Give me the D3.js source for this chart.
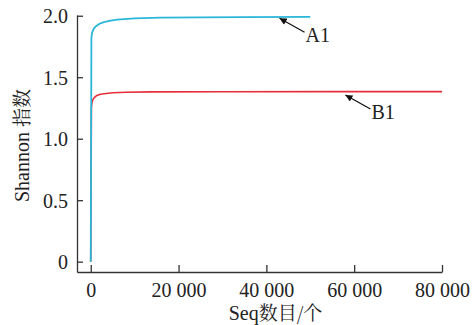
<!DOCTYPE html>
<html>
<head>
<meta charset="utf-8">
<script src="https://cdn.jsdelivr.net/npm/d3@7"></script>
<style>
  html, body { margin: 0; padding: 0; background: #fff; }
  svg { display: block; }
</style>
</head>
<body>
<div id="chart"></div>
<script>
// sequencing depth (reads) vs Shannon index
const seqA1 = [0, 150, 300, 700, 1200, 2000, 3000, 4500, 6000, 10000, 16000, 25000, 35000, 50000];
const shannonA1 = [0, 1.82, 1.86, 1.895, 1.915, 1.935, 1.948, 1.96, 1.968, 1.978, 1.984, 1.987, 1.989, 1.991];

const seqB1 = [0, 150, 300, 600, 1000, 1400, 2200, 3500, 5000, 8000, 14000, 30000, 55000, 80000];
const shannonB1 = [0, 1.255, 1.3, 1.325, 1.34, 1.352, 1.362, 1.368, 1.374, 1.378, 1.381, 1.382, 1.383, 1.383];

const xTicks = [0, 20000, 40000, 60000, 80000];
const yTicks = [0, 0.5, 1.0, 1.5, 2.0];

// label anchors: [seq, shannon] where the arrow touches the curve
const labels = [
  {name: 'A1', at: [43000, 1.98]},
  {name: 'B1', at: [58000, 1.355]},
];

const width = 475, height = 325;
const margin = {left: 77, right: 33, top: 15, bottom: 53};
const serif = 'Liberation Serif';
const cjk = 'Noto Serif CJK SC';

const x = d3.scaleLinear()
  .domain([-3130, 80000])
  .range([margin.left, width - margin.right]);

const y = d3.scaleLinear()
  .domain([-0.084, 2.006])
  .range([height - margin.bottom, margin.top]);

const svg = d3.select('#chart').append('svg')
  .attr('width', width)
  .attr('height', height)
  .attr('font-family', serif)
  .attr('font-size', 20);

const fmt = (d) => d === 0 ? '0' : d3.format(',')(d).replace(/,/g, ' ');

// x axis, ticks inward
const xAxis = svg.append('g')
  .attr('transform', `translate(0,${height - margin.bottom})`)
  .call(d3.axisBottom(x).tickValues(xTicks).tickSize(-7).tickSizeOuter(0).tickPadding(11).tickFormat(fmt));

// y axis, ticks inward
const yAxis = svg.append('g')
  .attr('transform', `translate(${margin.left},0)`)
  .call(d3.axisLeft(y).tickValues(yTicks).tickSize(-6).tickSizeOuter(0).tickPadding(9)
    .tickFormat((d) => d === 0 ? '0' : d3.format('.1f')(d)));

for (const g of [xAxis, yAxis]) {
  g.attr('font-family', serif).attr('font-size', 20);
  g.select('.domain').attr('stroke', '#333').attr('stroke-width', 1.3);
  g.selectAll('.tick line').attr('stroke', '#333').attr('stroke-width', 1.3);
  g.selectAll('.tick text')
    .attr('fill', '#222')
    .attr('font-family', serif);
}
xAxis.selectAll('.tick text').attr('dy', '0.71em');
yAxis.selectAll('.tick text').attr('dy', '0.35em');

const line = d3.line()
  .x((d) => x(d[0]))
  .y((d) => y(d[1]));

svg.append('path')
  .datum(d3.zip(seqB1, shannonB1))
  .attr('fill', 'none')
  .attr('stroke', '#e62e3a')
  .attr('stroke-width', 1.6)
  .attr('stroke-linejoin', 'round')
  .attr('d', line);

svg.append('path')
  .datum(d3.zip(seqA1, shannonA1))
  .attr('fill', 'none')
  .attr('stroke', '#29b6d9')
  .attr('stroke-width', 1.8)
  .attr('stroke-linejoin', 'round')
  .attr('d', line);

// arrows + labels
svg.append('defs').append('marker')
  .attr('id', 'arrow')
  .attr('viewBox', '0 0 10 10')
  .attr('refX', 10)
  .attr('refY', 5)
  .attr('markerWidth', 8)
  .attr('markerHeight', 7)
  .attr('markerUnits', 'userSpaceOnUse')
  .attr('orient', 'auto')
  .append('path')
  .attr('d', 'M0,0L10,5L0,10z')
  .attr('fill', '#111');

const lab = svg.append('g');
lab.selectAll('line')
  .data(labels)
  .join('line')
  .attr('x1', (d) => x(d.at[0]) + 25)
  .attr('y1', (d) => y(d.at[1]) + 14)
  .attr('x2', (d) => x(d.at[0]))
  .attr('y2', (d) => y(d.at[1]))
  .attr('stroke', '#111')
  .attr('stroke-width', 1.3)
  .attr('marker-end', 'url(#arrow)');

lab.selectAll('text')
  .data(labels)
  .join('text')
  .attr('x', (d) => x(d.at[0]) + 26)
  .attr('y', (d) => y(d.at[1]) + 24)
  .attr('font-family', serif)
  .attr('fill', '#222')
  .text((d) => d.name);

// axis titles
const xTitle = svg.append('text')
  .attr('x', (margin.left + width - margin.right) / 2 + 16)
  .attr('y', height - 5)
  .attr('text-anchor', 'middle')
  .attr('font-family', serif)
  .attr('fill', '#222');
xTitle.append('tspan').attr('font-family', serif).text('Seq');
xTitle.append('tspan').attr('font-family', cjk).attr('font-size', 19).text('数目/个');

const yTitle = svg.append('text')
  .attr('transform', `translate(29,${(margin.top + height - margin.bottom) / 2 + 2}) rotate(-90)`)
  .attr('text-anchor', 'middle')
  .attr('font-family', serif)
  .attr('fill', '#222');
yTitle.append('tspan').attr('font-family', serif).text('Shannon ');
yTitle.append('tspan').attr('font-family', cjk).attr('font-size', 19).text('指数');
</script>
</body>
</html>
